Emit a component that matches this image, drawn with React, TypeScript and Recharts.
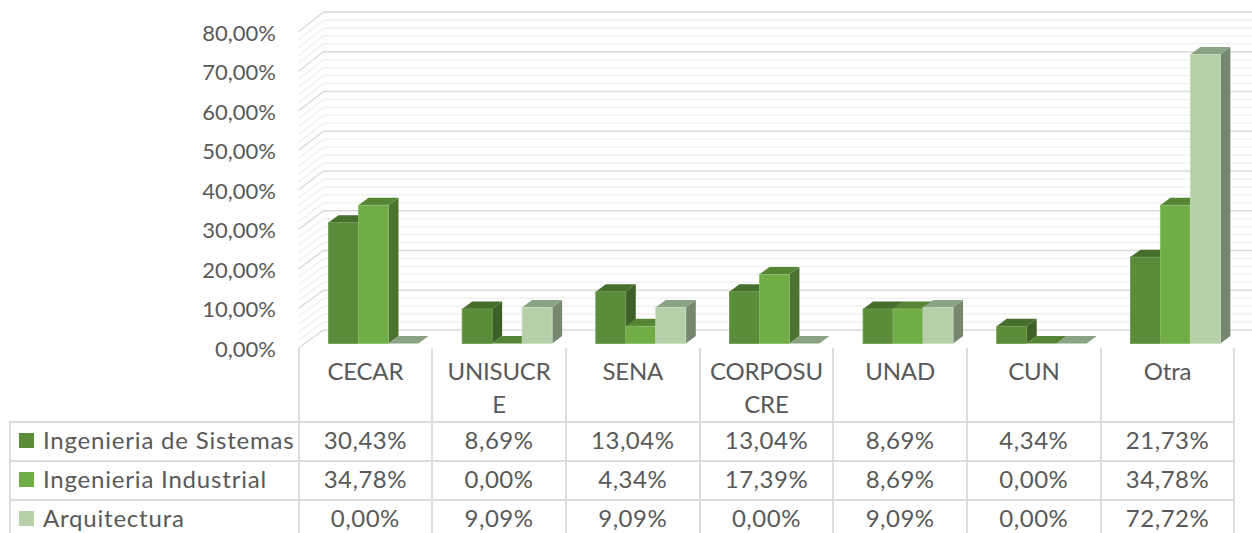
import React from 'react';
import { BarChart, Bar, XAxis, YAxis, CartesianGrid } from 'recharts';

const categories = ['CECAR', 'UNISUCRE', 'SENA', 'CORPOSUCRE', 'UNAD', 'CUN', 'Otra'];
const categoryLines = [['CECAR'], ['UNISUCR', 'E'], ['SENA'], ['CORPOSU', 'CRE'], ['UNAD'], ['CUN'], ['Otra']];
const sistemas = [30.43, 8.69, 13.04, 13.04, 8.69, 4.34, 21.73];
const industrial = [34.78, 0, 4.34, 17.39, 8.69, 0, 34.78];
const arquitectura = [0, 9.09, 9.09, 0, 9.09, 0, 72.72];
const yTicks = [0, 10, 20, 30, 40, 50, 60, 70, 80];
const gridValues = [0, 2, 4, 6, 8, 10, 12, 14, 16, 18, 20, 22, 24, 26, 28, 30, 32, 34, 36, 38, 40, 42, 44, 46, 48, 50, 52, 54, 56, 58, 60, 62, 64, 66, 68, 70, 72, 74, 76, 78, 80];

const seriesList = [
  { name: 'Ingenieria de Sistemas', key: 'sistemas', values: sistemas, front: '#5b8c3a', top: '#466e2c', side: '#3f6127', edge: '#6d9a50' },
  { name: 'Ingenieria Industrial', key: 'industrial', values: industrial, front: '#70ad47', top: '#568635', side: '#4a7330', edge: '#88bd66' },
  { name: 'Arquitectura', key: 'arquitectura', values: arquitectura, front: '#b5cfa8', top: '#8ba285', side: '#76876f', edge: '#c6dcbb' },
];

const chartData = categories.map((name, i) => ({
  name,
  sistemas: sistemas[i],
  industrial: industrial[i],
  arquitectura: arquitectura[i],
}));

const FONT = 'Lato, sans-serif';
const TEXT = '#595959';
const LINE = '#dcdcdc';
const DX = 10;
const DY = 7.4;
const BASE_Y = 343.5;

const fmt = (v: number) => v.toFixed(2).replace('.', ',') + '%';

// extruded column: front face, lid and right side
function Column3D(props: any, s: any) {
  const { x, y, width, height } = props;
  const r = x + width;
  const b = y + height;
  return (
    <g>
      <polygon points={`${r},${y} ${r + DX},${y - DY} ${r + DX},${b - DY} ${r},${b}`} fill={s.side} />
      <polygon points={`${x},${y} ${x + DX},${y - DY} ${r + DX},${y - DY} ${r},${y}`} fill={s.top} />
      {height > 0 && (
        <rect x={x} y={y} width={width} height={height} fill={s.front} stroke={s.edge} strokeWidth={0.8} />
      )}
    </g>
  );
}

// wall gridline: left wall slant then back wall run
function wallLine(props: any) {
  const { y1, index } = props;
  const major = gridValues[index] % 10 === 0;
  const front = y1 + 4.5 + (BASE_Y - y1) * 0.0055;
  return (
    <polyline
      key={index}
      points={`298.5,${front} 323.5,${y1 - 13.5} 1252,${y1 - 13.5}`}
      fill="none"
      stroke={major ? LINE : '#f1f1f1'}
      strokeWidth={1.5}
    />
  );
}

function YTick({ y, payload }: any) {
  const drift = ((BASE_Y - y) * 2) / 318;
  return (
    <text x={276} y={y + 13 + drift} textAnchor="end" fontFamily={FONT} fontSize={22} fill={TEXT}>
      {fmt(payload.value)}
    </text>
  );
}

const cols = [298.5, 432.2, 565.9, 699.6, 833.3, 967, 1100.7, 1234.4];
const rows = [421.5, 460.5, 499.5, 538];
const rowTextTop = [419.5, 458.5, 498];

function DataTable() {
  const cell: React.CSSProperties = {
    position: 'absolute',
    fontFamily: FONT,
    fontSize: 24,
    color: TEXT,
    textAlign: 'center',
    whiteSpace: 'nowrap',
  };
  return (
    <>
      {cols.map((x) => (
        <div key={x} style={{ position: 'absolute', left: x - 1, top: 348, width: 2, height: 190, background: LINE }} />
      ))}
      <div style={{ position: 'absolute', left: 9, top: 421, width: 2, height: 117, background: LINE }} />
      {rows.map((y) => (
        <div key={y} style={{ position: 'absolute', left: 9, top: y - 1, width: 1226, height: 2, background: LINE }} />
      ))}
      {categoryLines.map((lines, i) => (
        <div key={i} style={{ ...cell, left: cols[i], width: cols[i + 1] - cols[i], top: 354, lineHeight: '33px', letterSpacing: -0.2 }}>
          {lines.map((l) => (
            <div key={l}>{l}</div>
          ))}
        </div>
      ))}
      {seriesList.map((s, r) => (
        <React.Fragment key={s.key}>
          <div style={{ position: 'absolute', left: 19, top: rows[r] + 11.5, width: 15, height: 15, background: s.front }} />
          <div style={{ ...cell, left: 43, top: rowTextTop[r], lineHeight: '39px', textAlign: 'left', letterSpacing: 0.8 }}>{s.name}</div>
          {s.values.map((v, i) => (
            <div key={i} style={{ ...cell, left: cols[i], width: cols[i + 1] - cols[i], top: rowTextTop[r], lineHeight: '39px', letterSpacing: 0.5 }}>
              {fmt(v)}
            </div>
          ))}
        </React.Fragment>
      ))}
    </>
  );
}

export default function App() {
  return (
    <div style={{ position: 'absolute', left: 0, top: 0, width: 1252, height: 533, overflow: 'hidden', background: '#fff' }}>
      <BarChart
        width={1252}
        height={533}
        data={chartData}
        barSize={30}
        barGap={0}
        margin={{ top: 25.5, right: 10, bottom: 189.5, left: 0 }}
      >
        <CartesianGrid vertical={false} horizontal={wallLine} horizontalValues={gridValues} />
        <XAxis dataKey="name" hide />
        <YAxis width={306.5} domain={[0, 80]} ticks={yTicks} axisLine={false} tickLine={false} tick={<YTick />} interval={0} />
        {seriesList.map((s) => (
          <Bar key={s.key} dataKey={s.key} isAnimationActive={false} shape={(p: any) => Column3D(p, s)} />
        ))}
      </BarChart>
      <DataTable />
    </div>
  );
}
